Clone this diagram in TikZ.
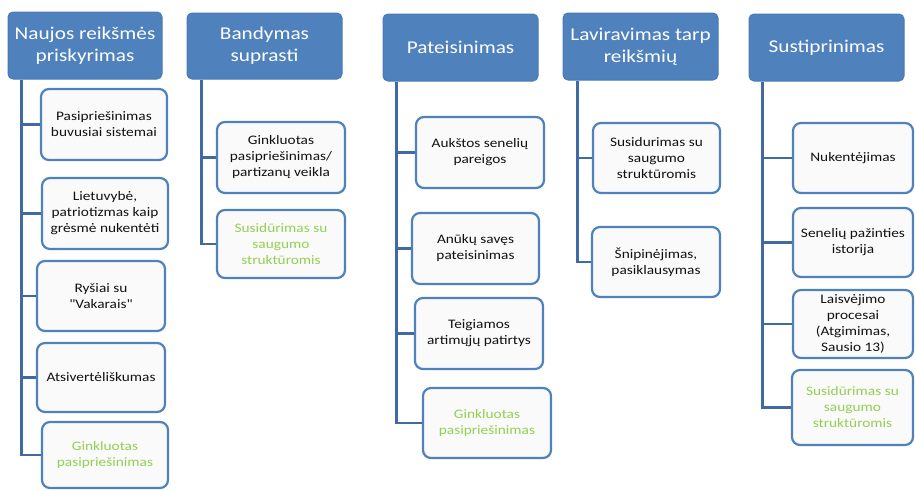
\documentclass[tikz,border=0pt]{standalone}
\usepackage{fontspec}
\setmainfont{Carlito}[FakeStretch=1.18, Ligatures=TeXOff]
\definecolor{hdfill}{HTML}{4F81BD}
\definecolor{hdborder}{HTML}{4A7AB5}
\definecolor{lfborder}{HTML}{4F81BD}
\definecolor{lffill}{HTML}{FAFAFA}
\definecolor{lnclr}{HTML}{3F6AA3}
\definecolor{grn}{HTML}{92D050}
\definecolor{txt}{HTML}{111111}
\tikzset{
  head/.style={draw=hdborder, fill=hdfill, rounded corners=5pt, line width=1pt,
    text=white, font=\fontsize{18}{22}\selectfont, align=center, inner sep=0pt},
  leaf/.style={draw=lfborder, fill=lffill, rounded corners=8pt, line width=2.2pt,
    font=\fontsize{13}{16}\selectfont, align=center, inner sep=0pt, text=txt},
  grn/.style={text=grn},
  conn/.style={draw=lnclr, line width=2.5pt, line cap=butt}
}
\begin{document}
\begin{tikzpicture}[x=1pt,y=-1pt]
\useasboundingbox (0,0) rectangle (915,490);
% Column 1
\node[head, minimum width=154, minimum height=67] (h1) at (85,45.5) {Naujos reikšmės\\priskyrimas};
\node[leaf, minimum width=126, minimum height=71] (a1) at (104,124.5) {Pasipriešinimas\\buvusiai sistemai};
\node[leaf, minimum width=126, minimum height=71] (a2) at (105,213.5) {Lietuvybė,\\patriotizmas kaip\\grėsmė nukentėti};
\node[leaf, minimum width=128, minimum height=70] (a3) at (101,296) {Ryšiai su\\"Vakarais"};
\node[leaf, minimum width=128, minimum height=69] (a4) at (101,377.5) {Atsivertėliškumas};
\node[leaf, grn, minimum width=126, minimum height=66] (a5) at (105,455) {Ginkluotas\\pasipriešinimas};
\coordinate (v1) at ([xshift=14]h1.south west);
\draw[conn] (v1) |- (a5.west);
\foreach \n in {a1,a2,a3,a4} \draw[conn] (\n.west) -- (\n.west -| v1);
% Column 2
\node[head, minimum width=155, minimum height=66] (h2) at (264.5,46) {Bandymas\\suprasti};
\node[leaf, minimum width=128, minimum height=71] (b1) at (281,157.5) {Ginkluotas\\pasipriešinimas/\\partizanų veikla};
\node[leaf, grn, minimum width=128, minimum height=68] (b2) at (281,244) {Susidūrimas su\\saugumo\\struktūromis};
\coordinate (v2) at ([xshift=15]h2.south west);
\draw[conn] (v2) |- (b2.west);
\draw[conn] (b1.west) -- (b1.west -| v2);
% Column 3
\node[head, minimum width=155, minimum height=67] (h3) at (460.5,47.5) {Pateisinimas};
\node[leaf, minimum width=128, minimum height=71] (c1) at (480,152.5) {Aukštos senelių\\pareigos};
\node[leaf, minimum width=127, minimum height=71] (c2) at (475.5,248.5) {Anūkų savęs\\pateisinimas};
\node[leaf, minimum width=128, minimum height=71] (c3) at (479,333.5) {Teigiamos\\artimųjų patirtys};
\node[leaf, grn, minimum width=128, minimum height=70] (c4) at (487,423) {Ginkluotas\\pasipriešinimas};
\coordinate (v3) at ([xshift=14]h3.south west);
\draw[conn] (v3) |- (c4.west);
\foreach \n in {c1,c2,c3} \draw[conn] (\n.west) -- (\n.west -| v3);
% Column 4
\node[head, minimum width=155, minimum height=67] (h4) at (640.5,46.5) {Laviravimas tarp\\reikšmių};
\node[leaf, minimum width=127, minimum height=70] (d1) at (656.5,158) {Susidurimas su\\saugumo\\struktūromis};
\node[leaf, minimum width=128, minimum height=70] (d2) at (656,262) {Šnipinėjimas,\\pasiklausymas};
\coordinate (v4) at ([xshift=15]h4.south west);
\draw[conn] (v4) |- (d2.west);
\draw[conn] (d1.west) -- (d1.west -| v4);
% Column 5
\node[head, minimum width=155, minimum height=67] (h5) at (826.5,47.5) {Sustiprinimas};
\node[leaf, minimum width=120, minimum height=70] (e1) at (853,158) {Nukentėjimas};
\node[leaf, minimum width=120, minimum height=69] (e2) at (853,242.5) {Senelių pažinties\\istorija};
\node[leaf, minimum width=120, minimum height=68] (e3) at (853,324) {Laisvėjimo\\procesai\\(Atgimimas,\\Sausio 13)};
\node[leaf, grn, minimum width=121, minimum height=75] (e4) at (852.5,407.5) {Susidūrimas su\\saugumo\\struktūromis};
\coordinate (v5) at ([xshift=14]h5.south west);
\draw[conn] (v5) |- (e4.west);
\foreach \n in {e1,e2,e3} \draw[conn] (\n.west) -- (\n.west -| v5);
\end{tikzpicture}
\end{document}
